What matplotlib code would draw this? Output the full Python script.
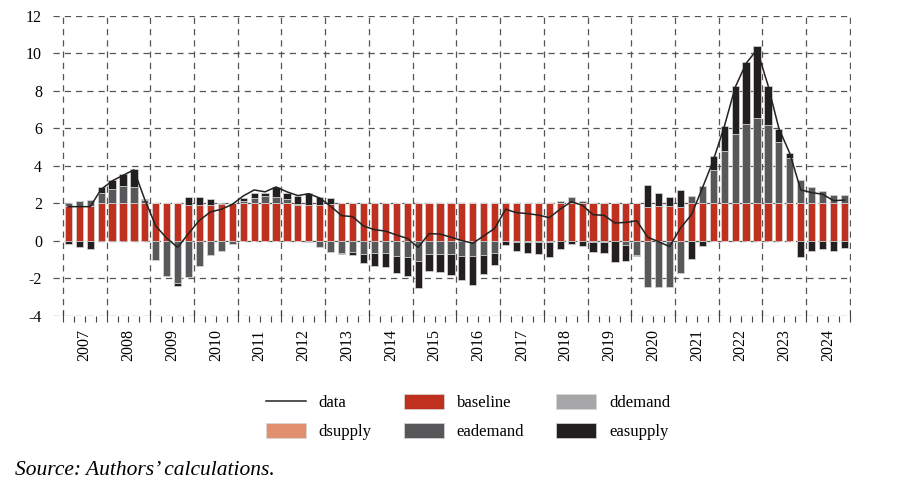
import numpy as np
import matplotlib
matplotlib.use('Agg')
import matplotlib.pyplot as plt
from matplotlib.patches import Patch
from matplotlib.lines import Line2D

plt.rcParams['font.family'] = ['Liberation Serif', 'DejaVu Serif']
plt.rcParams['axes.unicode_minus'] = False

# quarterly data, 2007Q1 - 2024Q4
years = list(range(2007, 2025))

baseline = [1.88, 1.88, 1.88, 2.0, 2.0, 2.0, 2.0, 2.0, 2.0, 2.0, 2.0, 1.92,
            1.9, 1.9, 1.97, 2.0, 2.0, 2.0, 2.0, 2.0, 2.0, 1.92, 1.92, 1.92,
            1.95, 2.0, 2.0, 2.0, 2.0, 2.0, 2.0, 2.0, 2.0, 2.0, 2.0, 2.0,
            2.0, 2.0, 2.0, 2.0, 2.0, 2.0, 2.0, 2.0, 2.0, 2.0, 2.0, 2.0,
            2.0, 2.0, 2.0, 2.0, 2.0, 1.81, 1.88, 1.88, 1.81, 2.0, 2.0, 2.0,
            2.0, 2.0, 2.0, 2.0, 2.0, 2.0, 2.0, 2.0, 2.0, 2.0, 2.0, 2.0]

ddemand = [0.0] * 72
dsupply = [0.0] * 72

eademand = [0.12, 0.23, 0.32, 0.58, 0.77, 0.94, 0.9, 0.2, -1.0, -1.87, -2.26, -1.94,
            -1.31, -0.76, -0.51, -0.18, 0.15, 0.27, 0.4, 0.33, 0.22, 0.05, -0.08, -0.3,
            -0.57, -0.66, -0.57, -0.69, -0.62, -0.66, -0.8, -0.83, -1.05, -0.71, -0.69, -0.71,
            -0.8, -0.8, -0.75, -0.62, -0.02, -0.03, -0.05, -0.05, -0.03, 0.15, 0.32, 0.15,
            -0.05, -0.03, -0.02, -0.21, -0.75, -2.48, -2.43, -2.48, -1.72, 0.42, 0.91, 1.78,
            2.81, 3.68, 4.23, 4.57, 4.18, 3.29, 2.4, 1.25, 0.9, 0.66, 0.45, 0.45]

easupply = [-0.18, -0.3, -0.43, 0.28, 0.49, 0.64, 0.93, 0.02, 0.0, 0.05, -0.14, 0.45,
            0.46, 0.32, 0.07, 0.02, 0.12, 0.3, 0.14, 0.53, 0.35, 0.41, 0.62, 0.44,
            0.32, -0.05, -0.18, -0.5, -0.71, -0.71, -0.89, -1.03, -1.44, -0.87, -0.96, -1.1,
            -1.28, -1.54, -1.01, -0.66, -0.21, -0.48, -0.57, -0.62, -0.8, -0.45, -0.16, -0.27,
            -0.55, -0.59, -1.12, -0.85, -0.05, 1.19, 0.67, 0.44, 0.92, -0.98, -0.25, 0.73,
            1.32, 2.58, 3.33, 3.82, 2.08, 0.66, 0.27, -0.83, -0.52, -0.41, -0.52, -0.36]

data = [1.83, 1.83, 1.83, 2.75, 3.2, 3.5, 3.79, 2.2, 0.8, 0.15, -0.34, 0.4,
        1.1, 1.55, 1.69, 1.95, 2.4, 2.72, 2.62, 2.88, 2.62, 2.42, 2.52, 2.29,
        1.85, 1.35, 1.3, 0.8, 0.6, 0.53, 0.32, 0.14, -0.34, 0.39, 0.37, 0.2,
        0.02, -0.12, 0.27, 0.67, 1.69, 1.51, 1.46, 1.38, 1.24, 1.7, 2.09, 1.91,
        1.4, 1.37, 0.96, 0.99, 1.08, 0.2, -0.04, -0.3, 0.69, 1.4, 2.82, 4.3,
        6.09, 8.19, 9.47, 10.2, 8.31, 6.0, 4.67, 2.72, 2.58, 2.49, 2.15, 2.18]

series = [('baseline', baseline, '#C0301E'),
          ('ddemand', ddemand, '#A6A6A8'),
          ('dsupply', dsupply, '#E0906F'),
          ('eademand', eademand, '#58585A'),
          ('easupply', easupply, '#231F20')]

x = np.arange(len(data))

fig = plt.figure(figsize=(9, 4.98), dpi=100)
ax = fig.add_axes([0.0589, 0.3655, 0.8867, 0.6025])
ax.set_axisbelow(True)

pos = np.zeros(len(x))
neg = np.zeros(len(x))
for name, vals, col in series:
    v = np.array(vals)
    bottom = np.where(v >= 0, pos, neg)
    ax.bar(x, v, bottom=bottom, width=0.66, color=col,
           edgecolor='#d8d8d8', linewidth=0.5, zorder=2)
    pos = pos + np.where(v >= 0, v, 0)
    neg = neg + np.where(v < 0, v, 0)

ax.plot(x, data, color='#222222', linewidth=1.1, zorder=3)

ax.set_xlim(-1.4, 71.6)
ax.set_ylim(-4, 12)
ax.set_yticks(range(-4, 13, 2))
ax.tick_params(axis='y', length=0, pad=8, labelsize=11.5)

bounds = np.arange(-0.5, 72, 4)
ax.set_xticks(bounds)
ax.set_xticklabels([])
ax.set_xticks(np.arange(-0.5, 72, 1), minor=True)
ax.tick_params(axis='x', which='major', direction='inout', length=9,
               width=0.8, color='#444444')
ax.tick_params(axis='x', which='minor', direction='out', length=4,
               width=0.8, color='#444444')

for s in ax.spines.values():
    s.set_visible(False)

gstyle = dict(color='#555555', linestyle=(0, (5, 4)), linewidth=0.9)
for yv in range(-4, 13, 2):
    ax.axhline(yv, zorder=0, **gstyle)
for b in bounds:
    ax.axvline(b, zorder=0, **gstyle)

for i, yr in enumerate(years):
    ax.text(1.5 + 4 * i, -0.045, str(yr), transform=ax.get_xaxis_transform(),
            rotation=90, ha='center', va='top', fontsize=11.5)

handles = [Line2D([0], [0], color='#222222', linewidth=1.1)]
labels = ['data']
for name, vals, col in series:
    handles.append(Patch(facecolor=col, edgecolor='#d8d8d8', linewidth=0.5))
    labels.append(name)
order = [0, 3, 1, 4, 2, 5]
fig.legend([handles[i] for i in order], [labels[i] for i in order],
           loc='center', bbox_to_anchor=(0.52, 0.162), ncol=3, frameon=False,
           fontsize=12, handlelength=2.4, handleheight=1.0, columnspacing=1.9,
           handletextpad=0.8, labelspacing=0.7)

fig.text(0.0167, 0.056, "Source: Authors\u2019 calculations.", style='italic',
         fontsize=15.5, va='center', ha='left')

fig.savefig('out.png', dpi=100)
